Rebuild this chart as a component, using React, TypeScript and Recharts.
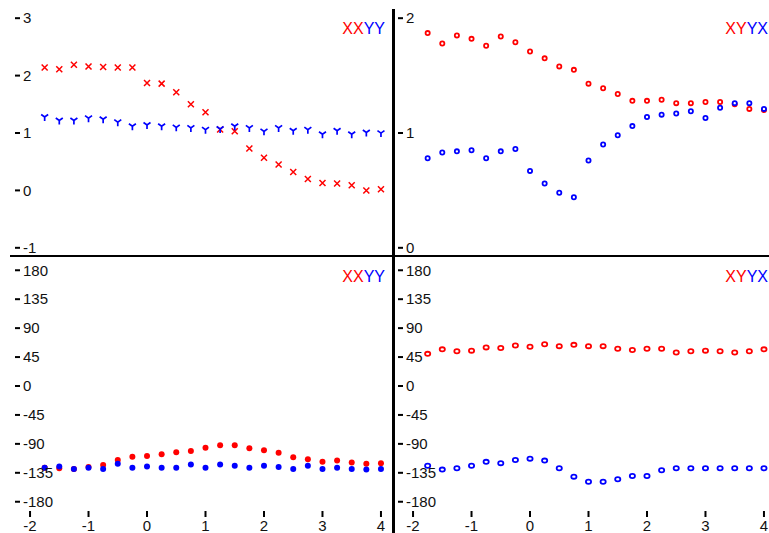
import { ScatterChart, Scatter, XAxis, YAxis } from 'recharts';

// log10 period
const logT = [
  -1.75, -1.5, -1.25, -1, -0.75, -0.5, -0.25, 0, 0.25, 0.5, 0.75, 1,
  1.25, 1.5, 1.75, 2, 2.25, 2.5, 2.75, 3, 3.25, 3.5, 3.75, 4,
];

// apparent resistivity, diagonal (log10)
const rhoXX = [2.14, 2.11, 2.19, 2.16, 2.15, 2.14, 2.14, 1.87, 1.86, 1.71, 1.5, 1.36, 1.06, 1.03, 0.73, 0.57, 0.45, 0.32, 0.2, 0.13, 0.12, 0.09, 0.0, 0.02];
const rhoYY = [1.27, 1.21, 1.21, 1.25, 1.23, 1.18, 1.11, 1.13, 1.11, 1.09, 1.08, 1.05, 1.06, 1.11, 1.08, 1.02, 1.08, 1.03, 1.05, 0.97, 1.03, 0.97, 1.0, 0.99];

// apparent resistivity, off-diagonal (log10)
const rhoXY = [1.87, 1.78, 1.85, 1.82, 1.76, 1.84, 1.79, 1.71, 1.65, 1.58, 1.55, 1.43, 1.39, 1.34, 1.28, 1.28, 1.29, 1.26, 1.26, 1.27, 1.27, 1.25, 1.21, 1.2];
const rhoYX = [0.78, 0.83, 0.84, 0.85, 0.78, 0.84, 0.86, 0.67, 0.56, 0.48, 0.44, 0.76, 0.9, 0.98, 1.06, 1.14, 1.16, 1.17, 1.19, 1.13, 1.22, 1.26, 1.26, 1.21];

// phases (degrees)
const phiXX = [-127, -128, -129, -126, -123, -115, -110, -109, -106, -103, -101, -96, -92, -92, -97, -100, -104, -111, -114, -118, -116, -119, -121, -120];
const phiYY = [-127, -125, -129, -127, -129, -121, -127, -125, -127, -127, -122, -127, -122, -124, -127, -124, -126, -129, -124, -129, -127, -129, -130, -129];
const phiXY = [50, 57, 54, 55, 60, 59, 63, 61, 65, 62, 64, 62, 62, 58, 56, 58, 58, 52, 54, 55, 54, 52, 54, 57];
const phiYX = [-124, -130, -128, -124, -118, -120, -115, -113, -116, -128, -141, -149, -149, -145, -140, -140, -131, -128, -128, -128, -128, -128, -128, -128];

const xTicks = [-2, -1, 0, 1, 2, 3, 4];
const diagTicks = [-1, 0, 1, 2, 3];
const offTicks = [0, 1, 2];
const phaseTicks = [180, 135, 90, 45, 0, -45, -90, -135, -180];

const RED = '#ff0000';
const BLUE = '#0000ff';
const FONT = '"Liberation Sans", Arial, sans-serif';
const X_DOMAIN = [-2.24, 4.24];
const PL = 16; // plot left inside each chart

const pts = (ys: number[]) => logT.map((x, i) => ({ x, y: ys[i] }));

const yTick = ({ y, payload }: any) => (
  <g>
    <line x1={PL - 1} x2={PL + 4} y1={y} y2={y} stroke="#000" strokeWidth={2} />
    <text x={PL + 7} y={y + 5.3} fontSize={15} fontFamily={FONT} fill="#111">
      {payload.value}
    </text>
  </g>
);

const xTick = ({ x, payload }: any) => (
  <g>
    <line x1={x} x2={x} y1={255} y2={261} stroke="#000" strokeWidth={2} />
    <text x={x} y={274.5} fontSize={15} fontFamily={FONT} fill="#111" textAnchor="middle">
      {payload.value}
    </text>
  </g>
);

const Cross = ({ cx, cy }: any) => (
  <path
    d={`M${cx - 3},${cy - 3}L${cx + 3},${cy + 3}M${cx - 3},${cy + 3}L${cx + 3},${cy - 3}`}
    stroke={RED}
    strokeWidth={1.5}
    fill="none"
  />
);

const TriDown = ({ cx, cy }: any) => (
  <path
    d={`M${cx - 3.5},${cy - 3}L${cx},${cy - 0.5}L${cx + 3.5},${cy - 3}M${cx},${cy - 0.5}L${cx},${cy + 3.5}`}
    stroke={BLUE}
    strokeWidth={1.7}
    fill="none"
  />
);

const ring = (color: string) => ({ cx, cy }: any) => (
  <circle cx={cx} cy={cy} r={2.1} fill="#fff" stroke={color} strokeWidth={1.8} />
);

const oval = (color: string) => ({ cx, cy }: any) => (
  <ellipse cx={cx} cy={cy} rx={2.6} ry={2.1} fill="#fff" stroke={color} strokeWidth={1.8} />
);

const dot = (color: string) => ({ cx, cy }: any) => (
  <circle cx={cx} cy={cy} r={3} fill={color} />
);

const Tag = ({ a, b, top }: { a: string; b: string; top: number }) => (
  <div
    style={{
      position: 'absolute',
      left: 0,
      width: 385,
      top,
      textAlign: 'right',
      fontFamily: FONT,
      fontSize: 16,
      lineHeight: '18px',
    }}
  >
    <span style={{ color: RED }}>{a}</span>
    <span style={{ color: BLUE }}>{b}</span>
  </div>
);

function TopPanel({ left, a, b, domain, ticks, shapeA, shapeB }: any) {
  return (
    <div style={{ position: 'absolute', left, top: 0 }}>
      <ScatterChart width={400} height={262} margin={{ top: 9, right: 5, bottom: 5, left: PL }}>
        <XAxis type="number" dataKey="x" domain={X_DOMAIN} allowDataOverflow hide />
        <YAxis
          type="number"
          dataKey="y"
          domain={domain}
          ticks={ticks}
          allowDataOverflow
          mirror
          axisLine={false}
          tickLine={false}
          interval={0}
          tick={yTick}
        />
        <Scatter data={a} shape={shapeA} isAnimationActive={false} />
        <Scatter data={b} shape={shapeB} isAnimationActive={false} />
      </ScatterChart>
    </div>
  );
}

function BottomPanel({ left, a, b, shapeA, shapeB }: any) {
  return (
    <div style={{ position: 'absolute', left, top: 256 }}>
      <ScatterChart width={400} height={277} margin={{ top: 5, right: 5, bottom: 0, left: PL }}>
        <XAxis
          type="number"
          dataKey="x"
          domain={X_DOMAIN}
          ticks={xTicks}
          allowDataOverflow
          height={22}
          axisLine={false}
          tickLine={false}
          interval={0}
          tick={xTick}
        />
        <YAxis
          type="number"
          dataKey="y"
          domain={[-194.4, 194.4]}
          ticks={phaseTicks}
          allowDataOverflow
          mirror
          axisLine={false}
          tickLine={false}
          interval={0}
          tick={yTick}
        />
        <Scatter data={a} shape={shapeA} isAnimationActive={false} />
        <Scatter data={b} shape={shapeB} isAnimationActive={false} />
      </ScatterChart>
    </div>
  );
}

export default function App() {
  return (
    <div
      style={{
        position: 'fixed',
        left: 0,
        top: 0,
        width: 769,
        height: 533,
        overflow: 'hidden',
        background: '#fff',
      }}
    >
      <TopPanel left={0} a={pts(rhoXX)} b={pts(rhoYY)} domain={[-1.16, 3.16]} ticks={diagTicks} shapeA={Cross} shapeB={TriDown} />
      <TopPanel left={383} a={pts(rhoXY)} b={pts(rhoYX)} domain={[-0.08, 2.08]} ticks={offTicks} shapeA={ring(RED)} shapeB={ring(BLUE)} />
      <BottomPanel left={0} a={pts(phiXX)} b={pts(phiYY)} shapeA={dot(RED)} shapeB={dot(BLUE)} />
      <BottomPanel left={383} a={pts(phiXY)} b={pts(phiYX)} shapeA={oval(RED)} shapeB={oval(BLUE)} />

      <div style={{ position: 'absolute', left: 0, top: 0 }}>
        <Tag a="XX" b="YY" top={20} />
        <Tag a="XX" b="YY" top={268} />
      </div>
      <div style={{ position: 'absolute', left: 383, top: 0 }}>
        <Tag a="XY" b="YX" top={20} />
        <Tag a="XY" b="YX" top={268} />
      </div>

      {/* panel dividers */}
      <div style={{ position: 'absolute', left: 10, top: 255, width: 759, height: 2, background: '#000' }} />
      <div style={{ position: 'absolute', left: 392, top: 9, width: 3, height: 524, background: '#000' }} />
    </div>
  );
}
